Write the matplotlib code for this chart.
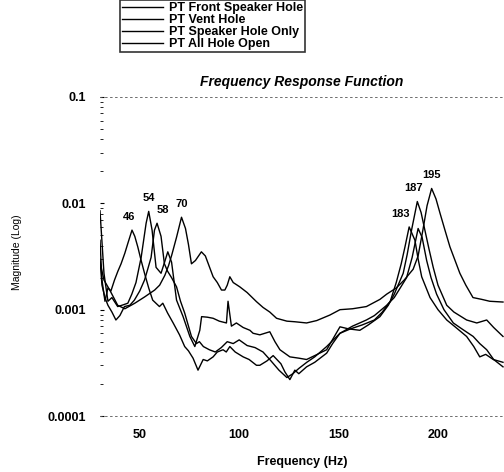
import matplotlib
matplotlib.use("Agg")
import matplotlib.pyplot as plt

plt.rcParams['font.family'] = ['Liberation Sans', 'DejaVu Sans']

# hand-read values (frequency in Hz, magnitude)
front_f = [30, 32, 34, 36, 38.9, 41, 44, 46, 48.1, 50.7, 53.2, 54.5, 56.2, 58.2, 60.7, 62.5, 64.1, 66,
           68.5, 71.8, 75.2, 77.7, 80.2, 81.1, 84, 86.9, 90, 93.6, 94.4, 96.1, 98.6, 102, 105.4, 107,
           110.4, 115.4, 118, 120.5, 125.5, 130, 133.9, 138, 144, 150.7, 155, 160.7, 165, 170.8, 175,
           178, 182.5, 184.5, 186.7, 189.6, 191.5, 193.4, 195.5, 197.6, 200, 204.4, 208, 214.4,
           219.5, 224.5, 228, 232.7]
front_m = [0.0085, 0.0022, 0.0012, 0.0013, 0.00107, 0.0011, 0.00115, 0.0014, 0.0018, 0.0031, 0.0065, 0.0084,
           0.0056, 0.0025, 0.0022, 0.0028, 0.0035, 0.0028, 0.00123, 0.00086, 0.00056, 0.00045, 0.00064,
           0.00086, 0.00085, 0.00083, 0.00078, 0.00075, 0.0012, 0.0007, 0.00075, 0.00068, 0.00064, 0.0006,
           0.00058, 0.00062, 0.0005, 0.00042, 0.00036, 0.00035, 0.00034, 0.00037, 0.00042, 0.00069, 0.00066,
           0.00064, 0.00072, 0.00086, 0.0011, 0.0014, 0.0022, 0.0033, 0.0056, 0.0104, 0.0082, 0.0056,
           0.0037, 0.0025, 0.0017, 0.0011, 0.00095, 0.0008, 0.00075, 0.0008, 0.00068, 0.00056]

vent_f = [30, 31, 32.5, 34, 36, 38, 40, 42.3, 45, 47.3, 50, 52.4, 54, 55.7, 57.4, 58.7, 60.7, 62.4, 64,
          66, 68.5, 70.5, 72.6, 76, 78.5, 80, 82, 85, 88, 91, 94, 97, 100, 104, 108, 112, 116, 120,
          124, 127, 130, 134, 138, 144, 150.7, 156, 162, 168, 172, 176, 179, 181.5, 183.4, 185.5,
          188.4, 190, 191.8, 196, 200, 204.4, 209, 214.4, 218, 221, 224, 227.8, 232.7]
vent_m = [0.003, 0.0017, 0.0013, 0.0011, 0.00095, 0.0008, 0.00088, 0.00107, 0.0011, 0.00123, 0.0015, 0.0019,
          0.0024, 0.0031, 0.0056, 0.0065, 0.0049, 0.0027, 0.0023, 0.002, 0.00164, 0.0012, 0.00093,
          0.00056, 0.00048, 0.0005, 0.00045, 0.00042, 0.0004, 0.00044, 0.0005, 0.00048, 0.00052, 0.00046,
          0.00044, 0.0004, 0.00033, 0.00027, 0.00023, 0.00025, 0.00028, 0.00032, 0.00036, 0.00045, 0.0006,
          0.00066, 0.00072, 0.0008, 0.00095, 0.0012, 0.0018, 0.0027, 0.0039, 0.006, 0.0045, 0.003,
          0.00204, 0.0013, 0.001, 0.0008, 0.00068, 0.00056, 0.00045, 0.00036, 0.00038, 0.00034, 0.00032]

speaker_f = [30, 31, 32.5, 34, 35.5, 37.3, 39, 40.6, 42.5, 44, 46.1, 47.5, 49, 50.5, 52.4, 54.5, 56.5,
             59.9, 61.6, 64, 66.8, 70, 72.6, 74.5, 76.8, 79.3, 81.9, 84, 86.9, 89, 91.9, 93.5, 95.3,
             98, 102, 105, 108.7, 110.4, 114, 117.1, 121, 123, 125.5, 128, 130, 133.9, 138, 144, 147,
             150.7, 157, 164, 168, 174.2, 178, 181, 184.2, 187, 190, 192, 194.3, 196.5, 199.3, 203,
             207.7, 212, 217.7, 221, 224.5, 228, 232.7]
speaker_m = [0.0045, 0.0019, 0.0012, 0.0016, 0.0015, 0.0019, 0.0023, 0.0027, 0.0034, 0.0042, 0.0056,
             0.0049, 0.0039, 0.003, 0.0022, 0.0016, 0.00123, 0.00107, 0.00115, 0.00093, 0.00075, 0.00058,
             0.00045, 0.00041, 0.00035, 0.00027, 0.00034, 0.00033, 0.00036, 0.0004, 0.00042, 0.0004,
             0.00045, 0.0004, 0.00036, 0.00034, 0.0003, 0.0003, 0.00033, 0.00037, 0.00031, 0.00026,
             0.00022, 0.00027, 0.00025, 0.00029, 0.00032, 0.00039, 0.00048, 0.0006, 0.0007, 0.0008,
             0.00088, 0.0011, 0.0013, 0.0016, 0.002, 0.0031, 0.0058, 0.0048, 0.0029, 0.002, 0.0014,
             0.001, 0.00075, 0.00066, 0.00056, 0.00048, 0.00042, 0.00034, 0.00029]

allopen_f = [30, 32, 34.9, 38.9, 42.5, 47.5, 52.5, 57.5, 60, 62.6, 64.5, 66.1, 68.5, 71, 73, 74.5, 76,
             78, 81, 83, 86.9, 89, 91.1, 92.8, 94, 95.3, 97, 100.3, 104, 108.7, 112, 115.4, 118.8,
             124, 128, 133.9, 139, 145.6, 150.7, 157, 164, 170.8, 174.2, 179, 183, 187.5, 190,
             192.4, 194.5, 196.8, 199, 201, 203.5, 206, 211, 214, 217.6, 222, 226, 232.7]
allopen_m = [0.0028, 0.0019, 0.00153, 0.0011, 0.00102, 0.00115, 0.00132, 0.00153, 0.0017, 0.0021, 0.0026,
             0.00327, 0.0048, 0.0074, 0.0058, 0.0041, 0.0027, 0.0029, 0.0035, 0.0032, 0.00204, 0.0018,
             0.00153, 0.00153, 0.0017, 0.00204, 0.0018, 0.00164, 0.00145, 0.00119, 0.00105, 0.00095,
             0.00083, 0.00078, 0.00077, 0.00075, 0.00079, 0.00089, 0.001, 0.00102, 0.00107, 0.00125,
             0.0014, 0.0016, 0.0019, 0.0024, 0.0032, 0.0056, 0.0095, 0.0138, 0.011, 0.0081, 0.0056,
             0.0039, 0.0022, 0.0017, 0.0013, 0.00125, 0.0012, 0.00118]

series = [
    ("PT Front Speaker Hole", front_f, front_m),
    ("PT Vent Hole", vent_f, vent_m),
    ("PT Speaker Hole Only", speaker_f, speaker_m),
    ("PT All Hole Open", allopen_f, allopen_m),
]

peak_labels = ["46", "54", "58", "70", "183", "187", "195"]
peak_freqs = [46.1, 54.5, 58.7, 71.0, 185.5, 189.6, 196.8]
peak_mags = [0.0056, 0.0084, 0.0065, 0.0074, 0.006, 0.0104, 0.0138]
label_dx = [-2, 0, 4, 0, -6, -3, 0]

fig = plt.figure(figsize=(5.04, 4.72), dpi=100)
ax = fig.add_axes([0.198, 0.1186, 0.802, 0.6759])

lines = []
for name, f, m in series:
    ln, = ax.plot(f, m, color='black', linewidth=1.0, label=name)
    lines.append(ln)

ax.set_yscale('log')
ax.set_ylim(1e-4, 0.1)
ax.set_xlim(29.9, 233.2)
ax.set_yticks([0.0001, 0.001, 0.01, 0.1])
ax.set_yticklabels(["0.0001", "0.001", "0.01", "0.1"])
ax.set_xticks([50, 100, 150, 200])
ax.tick_params(axis='y', which='major', length=3, direction='in', pad=10, labelsize=9)
ax.tick_params(axis='y', which='minor', length=2, direction='in', labelleft=False)
ax.tick_params(axis='x', length=0, pad=9, labelsize=9)
for lab in ax.get_xticklabels() + ax.get_yticklabels():
    lab.set_fontweight('bold')

for side in ['left', 'right']:
    ax.spines[side].set_visible(False)
for side in ['top', 'bottom']:
    ax.spines[side].set_linestyle((0, (2, 4)))
    ax.spines[side].set_color('#555555')
    ax.spines[side].set_linewidth(0.6)

for lab, f, m, dx in zip(peak_labels, peak_freqs, peak_mags, label_dx):
    ax.annotate(lab, (f, m), xytext=(dx, 6), textcoords='offset points',
                ha='center', va='bottom', fontsize=8, fontweight='bold')

ax.set_title("Frequency Response Function", fontsize=10, fontweight='bold',
             fontstyle='italic', pad=8)
ax.set_xlabel("Frequency (Hz)", fontsize=9, fontweight='bold', labelpad=11)
fig.text(0.034, 0.466, "Magnitude (Log)", rotation=90, ha='center', va='center', fontsize=7.5)

leg = fig.legend(handles=lines, loc='upper left', bbox_to_anchor=(0.238, 1.0),
                 fontsize=9, frameon=True, fancybox=False, edgecolor='black',
                 handlelength=3.3, handletextpad=0.5, labelspacing=0.0,
                 borderpad=0.15, borderaxespad=0)
leg.get_frame().set_linewidth(1.2)
for t in leg.get_texts():
    t.set_fontweight('bold')

fig.savefig("out.png", dpi=100)
